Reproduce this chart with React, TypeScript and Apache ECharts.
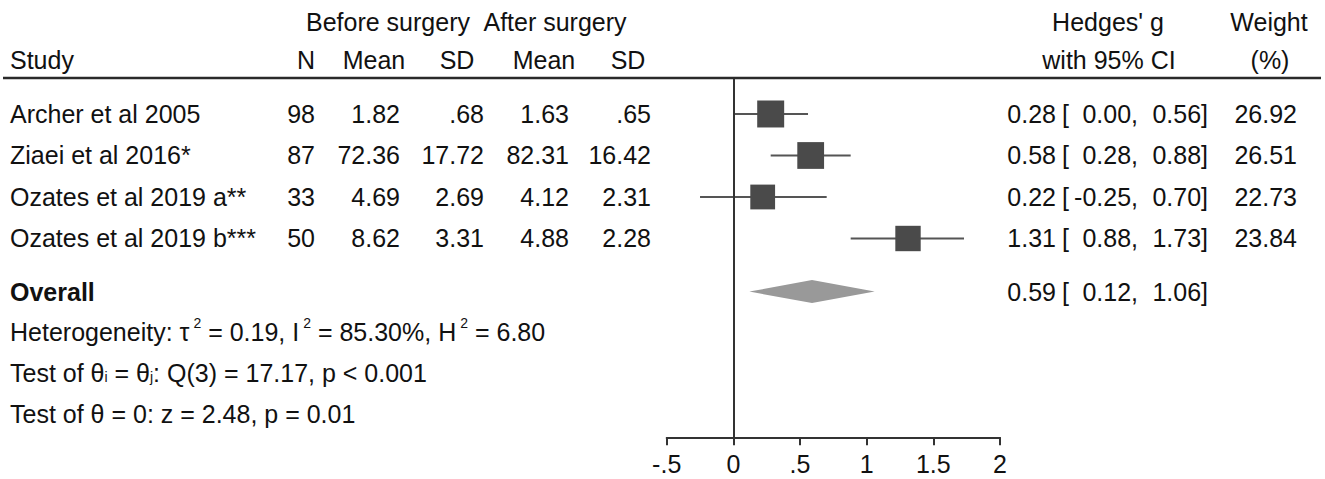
import React, { useEffect, useRef } from "react";
import * as echarts from "echarts";

// ---------- data ----------
const studies = ["Archer et al 2005", "Ziaei et al 2016*", "Ozates et al 2019 a**", "Ozates et al 2019 b***"];
const sampleN = [98, 87, 33, 50];
const beforeMean = [1.82, 72.36, 4.69, 8.62];
const beforeSD = [0.68, 17.72, 2.69, 3.31];
const afterMean = [1.63, 82.31, 4.12, 4.88];
const afterSD = [0.65, 16.42, 2.31, 2.28];
const hedgesG = [0.28, 0.58, 0.22, 1.31];
const ciLow = [0.0, 0.28, -0.25, 0.88];
const ciHigh = [0.56, 0.88, 0.7, 1.73];
const weights = [26.92, 26.51, 22.73, 23.84];
const overallG = 0.59;
const overallLow = 0.12;
const overallHigh = 1.06;
const overallRow = 4.28;
const noteRows = [5.25, 6.24, 7.23];
const noteTexts = [
  "Heterogeneity: τ{sup|2} = 0.19, I{sup|2} = 85.30%, H{sup|2} = 6.80",
  "Test of θ{sub|i} = θ{sub|j}: Q(3) = 17.17, p < 0.001",
  "Test of θ = 0: z = 2.48, p = 0.01",
];
const xTicks = [-0.5, 0, 0.5, 1, 1.5, 2];

// ---------- style ----------
const FONT = '"Liberation Sans", Arial, Helvetica, sans-serif';
const FS = 25;
const TXT = "#111";
const COL = { study: 10, n: 315, bMean: 400, bSD: 484, aMean: 569, aSD: 651, es: 1056, lb: 1062, lo: 1138, hi: 1208, w: 1297 };
const HEAD = { n: 306, bMean: 374, bSD: 457, aMean: 544, aSD: 628 };

const fmtTable = (v: number) => (Math.abs(v) < 1 ? v.toFixed(2).replace(/^0\./, ".") : v.toFixed(2));
const fmtAxis = (v: number) => (v === 0 ? "0" : String(v).replace(/^(-?)0\./, "$1."));

export default function App() {
  const ref = useRef<HTMLDivElement>(null);
  useEffect(() => {
    if (!ref.current) return;
    const chart = echarts.init(ref.current, undefined, { renderer: "svg" });

    const txt = (text: string, x: number, y: number, align: string, extra: any = {}) => ({
      type: "text",
      x,
      y,
      style: { text, x: 0, y: 0, fill: TXT, fontSize: FS, fontFamily: FONT, align, verticalAlign: "middle", ...extra },
    });

    const option: any = {
      animation: false,
      backgroundColor: "#fff",
      grid: { left: 666.7, right: 325, top: 79, bottom: 41.7, containLabel: false },
      xAxis: {
        type: "value",
        min: xTicks[0],
        max: xTicks[xTicks.length - 1],
        interval: 0.5,
        splitLine: { show: false },
        axisLine: { show: true, onZero: false, lineStyle: { color: "#333", width: 2 } },
        axisTick: { show: true, length: 8, lineStyle: { color: "#333", width: 2 } },
        axisLabel: { color: TXT, fontSize: FS, fontFamily: FONT, margin: 14, formatter: fmtAxis },
      },
      yAxis: { type: "value", show: false, inverse: true, min: -0.843, max: 7.79 },
      graphic: [
        { type: "line", shape: { x1: 3, y1: 78, x2: 1321, y2: 78 }, style: { stroke: "#2a2a2a", lineWidth: 2.5 } },
        txt("Before surgery", 388, 22, "center"),
        txt("After surgery", 555, 22, "center"),
        txt("Hedges' g", 1108, 22, "center"),
        txt("Weight", 1269, 22, "center"),
        txt("Study", COL.study, 60, "left"),
        txt("N", HEAD.n, 60, "center"),
        txt("Mean", HEAD.bMean, 60, "center"),
        txt("SD", HEAD.bSD, 60, "center"),
        txt("Mean", HEAD.aMean, 60, "center"),
        txt("SD", HEAD.aSD, 60, "center"),
        txt("with 95% CI", 1109, 60, "center"),
        txt("(%)", 1270, 60, "center"),
      ],
      series: [
        {
          type: "custom",
          name: "studies",
          data: hedgesG.map((g, i) => [g, i, ciLow[i], ciHigh[i], weights[i]]),
          encode: { x: 0, y: 1 },
          renderItem: (params: any, api: any) => {
            const row = api.value(1);
            const p = api.coord([api.value(0), row]);
            const lo = api.coord([api.value(2), row]);
            const hi = api.coord([api.value(3), row]);
            const side = 5.2 * Math.sqrt(api.value(4));
            return {
              type: "group",
              children: [
                { type: "line", shape: { x1: lo[0], y1: p[1], x2: hi[0], y2: p[1] }, style: { stroke: "#555", lineWidth: 2 } },
                { type: "rect", shape: { x: p[0] - side / 2, y: p[1] - side / 2, width: side, height: side }, style: { fill: "#4a4a4a" } },
              ],
            };
          },
          markLine: {
            silent: true,
            symbol: "none",
            label: { show: false },
            lineStyle: { color: "#333", width: 2, type: "solid" },
            data: [{ xAxis: 0 }],
          },
          z: 3,
        },
        {
          type: "custom",
          name: "overall",
          data: [[overallG, overallRow, overallLow, overallHigh]],
          encode: { x: 0, y: 1 },
          renderItem: (params: any, api: any) => {
            const row = api.value(1);
            const p = api.coord([api.value(0), row]);
            const lo = api.coord([api.value(2), row]);
            const hi = api.coord([api.value(3), row]);
            const h = 11.5;
            return {
              type: "polygon",
              shape: { points: [[lo[0], p[1]], [p[0], p[1] - h], [hi[0], p[1]], [p[0], p[1] + h]] },
              style: { fill: "#999" },
            };
          },
          z: 3,
        },
        {
          type: "custom",
          name: "table",
          data: studies.map((_, i) => [0, i]),
          encode: { x: 0, y: 1 },
          renderItem: (params: any, api: any) => {
            const i = params.dataIndex;
            const y = api.coord([0, api.value(1)])[1];
            return {
              type: "group",
              children: [
                txt(studies[i], COL.study, y, "left"),
                txt(String(sampleN[i]), COL.n, y, "right"),
                txt(fmtTable(beforeMean[i]), COL.bMean, y, "right"),
                txt(fmtTable(beforeSD[i]), COL.bSD, y, "right"),
                txt(fmtTable(afterMean[i]), COL.aMean, y, "right"),
                txt(fmtTable(afterSD[i]), COL.aSD, y, "right"),
                txt(hedgesG[i].toFixed(2), COL.es, y, "right"),
                txt("[", COL.lb, y, "left"),
                txt(ciLow[i].toFixed(2) + ",", COL.lo, y, "right"),
                txt(ciHigh[i].toFixed(2) + "]", COL.hi, y, "right"),
                txt(weights[i].toFixed(2), COL.w, y, "right"),
              ],
            };
          },
        },
        {
          type: "custom",
          name: "overallText",
          data: [[0, overallRow]],
          encode: { x: 0, y: 1 },
          renderItem: (params: any, api: any) => {
            const y = api.coord([0, api.value(1)])[1];
            return {
              type: "group",
              children: [
                txt("Overall", COL.study, y, "left", { fontWeight: "bold" }),
                txt(overallG.toFixed(2), COL.es, y, "right"),
                txt("[", COL.lb, y, "left"),
                txt(overallLow.toFixed(2) + ",", COL.lo, y, "right"),
                txt(overallHigh.toFixed(2) + "]", COL.hi, y, "right"),
              ],
            };
          },
        },
        {
          type: "custom",
          name: "notes",
          data: noteRows.map((r) => [0, r]),
          encode: { x: 0, y: 1 },
          renderItem: (params: any, api: any) => {
            const y = api.coord([0, api.value(1)])[1];
            return txt(noteTexts[params.dataIndex], COL.study, y, "left", {
              lineHeight: 32,
              rich: {
                sup: { fontSize: 14, lineHeight: 14, fontFamily: FONT, fill: TXT, verticalAlign: "top", padding: [0, 0, 0, 4] },
                sub: { fontSize: 14, lineHeight: 14, fontFamily: FONT, fill: TXT, verticalAlign: "bottom", padding: [0, 0, 5, 0] },
              },
            });
          },
        },
      ],
    };
    chart.setOption(option);
    return () => chart.dispose();
  }, []);
  return <div ref={ref} style={{ position: "fixed", left: 0, top: 0, width: 1325, height: 479 }} />;
}
